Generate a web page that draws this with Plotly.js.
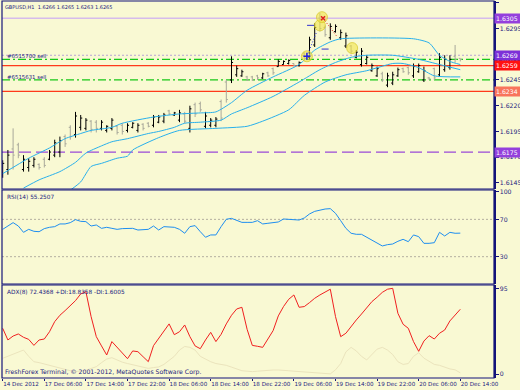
<!DOCTYPE html>
<html>
<head>
<meta charset="utf-8">
<script src="https://cdn.plot.ly/plotly-3.0.1.min.js"></script>
<style>html,body{margin:0;padding:0;background:#f9f9d3;}#chart{width:520px;height:390px;}</style>
</head>
<body>
<div id="chart"></div>
<script>
// ---- data ----
const tickIdx = [0, 8, 16, 24, 32, 40, 48, 56, 64, 72, 80, 88];
const tickText = ["14 Dec 2012", "17 Dec 06:00", "17 Dec 14:00", "17 Dec 22:00", "18 Dec 06:00", "18 Dec 14:00",
  "18 Dec 22:00", "19 Dec 06:00", "19 Dec 14:00", "19 Dec 22:00", "20 Dec 06:00", "20 Dec 14:00"];

const open = [1.6153,1.6158,1.6178,1.6182,1.6158,1.6160,1.6162,1.6163,1.6168,1.6168,
1.6172,1.6175,1.6190,1.6199,1.6192,1.6199,1.6198,1.6205,1.6204,1.6198,
1.6196,1.6198,1.6200,1.6201,1.6196,1.6199,1.6196,1.6202,1.6203,1.6201,
1.6204,1.6205,1.6215,1.6211,1.6206,1.6212,1.6198,1.6221,1.6222,1.6200,
1.6201,1.6201,1.6224,1.6243,1.6245,1.6250,1.6249,1.6248,1.6248,1.6249,
1.6247,1.6252,1.6256,1.6258,1.6260,1.6261,1.6261,1.6259,1.6271,1.6267,
1.6279,1.6305,1.6296,1.6286,1.6292,1.6286,1.6278,1.6278,1.6267,1.6260,
1.6261,1.6254,1.6249,1.6251,1.6240,1.6242,1.6249,1.6256,1.6257,1.6249,
1.6253,1.6245,1.6247,1.6256,1.6250,1.6255,1.6257,1.6268,1.6266];
const high = [1.6167,1.6177,1.6198,1.6184,1.6172,1.6169,1.6170,1.6164,1.6170,1.6177,
1.6187,1.6190,1.6192,1.6201,1.6214,1.6211,1.6208,1.6206,1.6206,1.6206,
1.6201,1.6208,1.6201,1.6203,1.6203,1.6204,1.6203,1.6203,1.6204,1.6211,
1.6211,1.6213,1.6216,1.6214,1.6216,1.6214,1.6220,1.6223,1.6224,1.6214,
1.6208,1.6209,1.6226,1.6245,1.6268,1.6259,1.6255,1.6249,1.6249,1.6250,
1.6252,1.6253,1.6257,1.6265,1.6264,1.6265,1.6261,1.6263,1.6272,1.6287,
1.6300,1.6310,1.6298,1.6300,1.6299,1.6294,1.6291,1.6279,1.6274,1.6276,
1.6269,1.6261,1.6258,1.6253,1.6252,1.6253,1.6257,1.6257,1.6258,1.6261,
1.6261,1.6258,1.6248,1.6257,1.6271,1.6269,1.6269,1.6279,1.6266];
const low = [1.6150,1.6153,1.6158,1.6169,1.6156,1.6156,1.6160,1.6158,1.6160,1.6167,
1.6170,1.6170,1.6180,1.6187,1.6189,1.6196,1.6196,1.6194,1.6194,1.6196,
1.6194,1.6196,1.6192,1.6192,1.6194,1.6198,1.6194,1.6196,1.6199,1.6199,
1.6203,1.6203,1.6211,1.6210,1.6204,1.6203,1.6194,1.6209,1.6214,1.6198,
1.6199,1.6199,1.6205,1.6223,1.6242,1.6248,1.6248,1.6244,1.6244,1.6245,
1.6246,1.6248,1.6250,1.6258,1.6260,1.6260,1.6258,1.6258,1.6264,1.6265,
1.6277,1.6292,1.6287,1.6284,1.6291,1.6284,1.6276,1.6271,1.6266,1.6258,
1.6260,1.6253,1.6248,1.6243,1.6238,1.6240,1.6248,1.6252,1.6250,1.6247,
1.6252,1.6243,1.6245,1.6245,1.6248,1.6253,1.6255,1.6262,1.6263];
const close = [1.6164,1.6172,1.6172,1.6172,1.6168,1.6166,1.6168,1.6160,1.6162,1.6175,
1.6184,1.6186,1.6183,1.6190,1.6210,1.6208,1.6206,1.6197,1.6198,1.6204,
1.6200,1.6206,1.6194,1.6195,1.6201,1.6203,1.6201,1.6198,1.6200,1.6209,
1.6209,1.6211,1.6212,1.6213,1.6213,1.6205,1.6217,1.6212,1.6216,1.6210,
1.6206,1.6207,1.6208,1.6226,1.6262,1.6256,1.6253,1.6245,1.6245,1.6247,
1.6251,1.6249,1.6252,1.6263,1.6263,1.6264,1.6259,1.6262,1.6266,1.6284,
1.6296,1.6295,1.6289,1.6297,1.6297,1.6291,1.6288,1.6273,1.6272,1.6273,
1.6267,1.6259,1.6256,1.6245,1.6249,1.6250,1.6255,1.6253,1.6252,1.6258,
1.6259,1.6254,1.6246,1.6247,1.6267,1.6265,1.6265,1.6265,1.6265];

const upperIdx = [0, 5, 9, 12, 15, 17, 21, 23, 29, 34, 38, 41, 44, 47, 52, 57, 60, 63, 65, 79, 82, 84, 86, 88];
const upperVal = [1.6154, 1.6169, 1.6179, 1.6188, 1.6193, 1.6196, 1.6199, 1.6203, 1.6209, 1.6212, 1.6213, 1.6214,
  1.6223, 1.6235, 1.6248, 1.6260, 1.6274, 1.6282, 1.6285, 1.6285, 1.6281, 1.6269, 1.6263, 1.6260];
const midIdx = [4, 7, 11, 14, 16, 19, 21, 24, 28, 30, 33, 35, 38, 42, 44, 47, 52, 57, 61, 64, 67, 70, 75, 80, 84, 88];
const midVal = [1.6140, 1.6148, 1.6156, 1.6165, 1.6174, 1.6181, 1.6185, 1.6188, 1.6193, 1.6195, 1.6199, 1.6203, 1.6204,
  1.6206, 1.6212, 1.6218, 1.6229, 1.6243, 1.6255, 1.6262, 1.6267, 1.6269, 1.6269, 1.6265, 1.6260, 1.6255];
const lowIdx = [13, 15, 17, 19, 22, 24, 25, 30, 34, 41, 47, 50, 55, 58, 62, 66, 70, 75, 77, 80, 83, 88];
const lowVal = [1.6138, 1.6146, 1.6161, 1.6164, 1.6169, 1.6171, 1.6177, 1.6189, 1.6196, 1.6198, 1.6200, 1.6205,
  1.6216, 1.6230, 1.6243, 1.6250, 1.6254, 1.6261, 1.6261, 1.6257, 1.6249, 1.6248];

const rsi = [59.3,62.9,66.5,62.9,56.1,59.3,57.2,56.8,60.1,61.5,
62.2,65.1,65.1,66.5,69.7,67.9,67.6,62.9,64.0,60.4,
61.5,60.4,59.3,60.1,60.4,60.4,58.6,58.6,59.3,62.9,
58.6,62.2,62.2,61.5,59.3,55.1,62.2,63.3,56.8,50.8,
53.3,53.3,62.2,70.1,71.1,68.6,66.8,66.8,66.8,68.6,
65.1,65.8,66.8,67.2,70.4,70.1,69.3,69.3,71.5,75.8,
78.6,80.1,81.1,81.5,76.5,68.6,60.4,55.1,54.0,54.0,
50.8,47.9,45.0,41.5,42.9,43.6,46.5,48.6,46.1,53.3,
51.5,44.3,44.3,45.0,56.1,52.2,56.1,55.1,55.25];

const adx = [51.2,38.2,42.6,44.9,41.2,38.9,32.2,38.2,39.3,47.4,
58.6,65.7,70.9,76.4,82.0,89.5,92.0,64.2,41.9,31.6,
21.5,36.4,30.0,22.6,17.4,26.0,25.2,19.6,14.1,31.9,
40.1,47.4,56.1,44.1,47.4,54.9,41.9,31.6,28.5,38.2,
46.7,36.4,44.5,56.1,65.7,72.7,74.6,50.1,32.2,31.2,
30.0,39.3,48.6,65.0,75.4,83.5,88.3,74.6,75.4,79.8,
84.6,88.3,91.6,94.7,64.2,41.9,45.7,53.8,60.5,67.1,
73.5,80.9,85.8,91.2,94.7,95.7,67.9,55.7,51.2,36.4,
25.6,37.0,43.0,39.3,45.7,49.3,59.4,66.1,72.4];
const minusDI = [17.8,20,23,25,27,20,14,13,11.5,10,
8.5,7,5,4,3,3.5,4.5,6.5,8.5,13,
17,18.5,16,13.5,12,10.5,9,7.5,6.6,7.5,
8.2,11,15,20,27,31,30,27,20,17,
14,12,11,10,8,6,4,3.5,3,3.5,
4,4.8,4.8,4.8,4.8,4,3.5,3,2.5,2,
1.5,1,0.8,0.5,5,12,25,30,26,20,
16,22,28,30,27,22,14,11,12,20,
24,18,14,11,10,8,6,5,1.6];

// trade marks
const circleIdx = [58.5, 61.0, 61.4, 67.2];
const circlePrice = [1.6268, 1.6298, 1.6306, 1.6276];
const buyLineIdx = [58.5, 60.4];
const buyLinePrice = [1.6268, 1.6292];
const sellLineIdx = [61.6, 64.3];
const sellLinePrice = [1.6305, 1.6287];
const stopIdx = [59.2, 62.0];
const stopPrice = [1.6298, 1.6275];

// horizontal levels
const levelPrice = [1.6305, 1.6269, 1.6265, 1.6259, 1.6245, 1.6234, 1.6175];
const levelColor = ['#d6bcec', '#b8a4d4', '#18c818', '#ff3a1a', '#18c818', '#ff3a1a', '#9a4ad8'];
const levelDash = ['solid', '2px,2px', '8px,3px,2px,3px', 'solid', '8px,3px,2px,3px', 'solid', '12px,5px'];
const levelWidth = [1.5, 1, 1.2, 1.2, 1.2, 1.2, 1.2];

// price boxes on the axis
const boxPrice = [1.6305, 1.6265, 1.6269, 1.6259, 1.6234, 1.6175];
const boxColor = ['#9440dc', '#14148a', '#7c30d8', '#ff1010', '#f8745c', '#9440dc'];

const priceTicks = [1.6145, 1.6170, 1.6195, 1.6220, 1.6245, 1.6295, 1.6320];
const rsiTicks = [0, 30, 70, 100];
const adxTicks = [0, 95];

// ---- drawing ----
const BG = '#f9f9d3';
const NAVY = '#1c1c80';
const FONT = 'DejaVu Sans';
const idx = open.map((_, i) => i);

const traces = [
  {type: 'ohlc', x: idx, open: open, high: high, low: low, close: close, xaxis: 'x', yaxis: 'y',
   tickwidth: 0.3, increasing: {line: {color: '#000000', width: 1}}, decreasing: {line: {color: '#a8a89a', width: 1}},
   hoverinfo: 'skip'},
  {type: 'scatter', mode: 'lines', x: upperIdx, y: upperVal, yaxis: 'y', line: {color: '#28b0ec', width: 1, shape: 'spline', smoothing: 0.6}, hoverinfo: 'skip'},
  {type: 'scatter', mode: 'lines', x: midIdx, y: midVal, yaxis: 'y', line: {color: '#28b0ec', width: 1, shape: 'spline', smoothing: 0.6}, hoverinfo: 'skip'},
  {type: 'scatter', mode: 'lines', x: lowIdx, y: lowVal, yaxis: 'y', line: {color: '#28b0ec', width: 1, shape: 'spline', smoothing: 0.6}, hoverinfo: 'skip'},
  {type: 'scatter', mode: 'markers', x: circleIdx, y: circlePrice, yaxis: 'y',
   marker: {size: 11, color: 'rgba(240,226,60,0.55)', line: {color: 'rgba(215,200,40,0.7)', width: 1}}, hoverinfo: 'skip'},
  {type: 'scatter', mode: 'lines', x: buyLineIdx, y: buyLinePrice, yaxis: 'y', line: {color: '#2030e0', width: 1, dash: '1px,2px'}, hoverinfo: 'skip'},
  {type: 'scatter', mode: 'lines', x: sellLineIdx, y: sellLinePrice, yaxis: 'y', line: {color: '#e02020', width: 1, dash: '1px,2px'}, hoverinfo: 'skip'},
  {type: 'scatter', mode: 'markers', x: [buyLineIdx[0]], y: [buyLinePrice[0]], yaxis: 'y',
   marker: {symbol: 'cross-thin', size: 5, line: {color: '#2020e0', width: 1.5}}, hoverinfo: 'skip'},
  {type: 'scatter', mode: 'markers', x: [sellLineIdx[0]], y: [sellLinePrice[0]], yaxis: 'y',
   marker: {symbol: 'x-thin', size: 4, line: {color: '#e02020', width: 1.5}}, hoverinfo: 'skip'},
  {type: 'scatter', mode: 'markers', x: stopIdx, y: stopPrice, yaxis: 'y',
   marker: {symbol: 'line-ew', size: 5, line: {color: '#5050d0', width: 1.2}}, hoverinfo: 'skip'},
  {type: 'scatter', mode: 'lines', x: idx, y: rsi, yaxis: 'y2', line: {color: '#1e8ef0', width: 1}, hoverinfo: 'skip'},
  {type: 'scatter', mode: 'lines', x: idx, y: minusDI, yaxis: 'y3', line: {color: '#ebe4bd', width: 1}, hoverinfo: 'skip'},
  {type: 'scatter', mode: 'lines', x: idx, y: adx, yaxis: 'y3', line: {color: '#f02020', width: 1}, hoverinfo: 'skip'}
];

const dMain = [0.5013, 1], dRsi = [0.2493, 0.4987], dAdx = [0, 0.2467];
const yAxisBase = {side: 'right', showgrid: false, zeroline: false, showline: true, linecolor: '#14147a', linewidth: 1.5,
  ticks: 'outside', ticklen: 3, tickcolor: '#14147a', tickfont: {family: FONT, size: 6.2, color: NAVY}, fixedrange: true,
  automargin: false};

const shapes = [];
levelPrice.forEach((p, k) => shapes.push({type: 'line', xref: 'paper', x0: 0, x1: 1, yref: 'y', y0: p, y1: p,
  line: {color: levelColor[k], width: levelWidth[k], dash: levelDash[k]}, layer: 'below'}));
[70, 30].forEach(v => shapes.push({type: 'line', xref: 'paper', x0: 0, x1: 1, yref: 'y2', y0: v, y1: v,
  line: {color: '#b4b0a0', width: 1, dash: '2px,2px'}, layer: 'below'}));
[dMain, dRsi, dAdx].forEach(d => shapes.push({type: 'rect', xref: 'paper', yref: 'paper', x0: 0, x1: 1, y0: d[0], y1: d[1],
  line: {color: '#14147a', width: 1.2}, fillcolor: 'rgba(0,0,0,0)'}));

const annotations = [];
const txt = (text, x, y, size) => ({text: text, xref: 'paper', yref: 'paper', x: 0, y: 1, xshift: x, yshift: -y,
  xanchor: 'left', yanchor: 'middle', showarrow: false, font: {family: FONT, size: size || 6, color: NAVY}});
annotations.push(txt('GBPUSD,H1\u00a0\u00a01.6266 1.6265 1.6263 1.6265', 1, 6, 5));
annotations.push(txt('#6515700 sell', 3, 55, 5.4));
annotations.push(txt('#6515631 sell', 3, 76, 5.4));
annotations.push(txt('RSI(14) 55.2507', 3, 196, 5.8));
annotations.push(txt('ADX(8) 72.4368 +DI:18.8358 -DI:1.6005', 3, 291, 5.8));
annotations.push(txt('FreshForex Terminal, \u00a9 2001-2012, MetaQuotes Software Corp.', 1, 371, 6.2));
boxPrice.forEach((p, k) => annotations.push({text: p.toFixed(4), xref: 'paper', yref: 'y', x: 1, y: p, xanchor: 'left',
  yanchor: 'middle', xshift: 0, showarrow: false, bgcolor: boxColor[k], borderpad: 1, width: 23, height: 7, align: 'left',
  font: {family: FONT, size: 6.2, color: '#ffffff'}}));

const layout = {
  width: 520, height: 390,
  margin: {l: 2, r: 26, t: 1, b: 12, pad: 0},
  paper_bgcolor: BG, plot_bgcolor: BG, showlegend: false,
  xaxis: {range: [-0.135, 94.48], anchor: 'y3', showgrid: false, zeroline: false, showline: false,
    tickmode: 'array', tickvals: tickIdx, ticktext: tickText, ticks: 'outside', ticklen: 2, tickcolor: '#14147a',
    tickangle: 0, automargin: false,
    ticklabelposition: 'outside right', tickfont: {family: FONT, size: 5.6, color: NAVY},
    rangeslider: {visible: false}, fixedrange: true},
  yaxis: Object.assign({}, yAxisBase, {domain: dMain, range: [1.61391, 1.63217], tickmode: 'array',
    tickvals: priceTicks, ticktext: priceTicks.map(v => v.toFixed(4))}),
  yaxis2: Object.assign({}, yAxisBase, {domain: dRsi, range: [0.7, 101.5], tickmode: 'array', tickvals: rsiTicks,
    ticktext: rsiTicks.map(String)}),
  yaxis3: Object.assign({}, yAxisBase, {domain: dAdx, range: [-4.1, 99.4], tickmode: 'array', tickvals: adxTicks,
    ticktext: adxTicks.map(String)}),
  shapes: shapes,
  annotations: annotations
};

Plotly.newPlot('chart', traces, layout, {staticPlot: true, displayModeBar: false});
</script>
</body>
</html>
